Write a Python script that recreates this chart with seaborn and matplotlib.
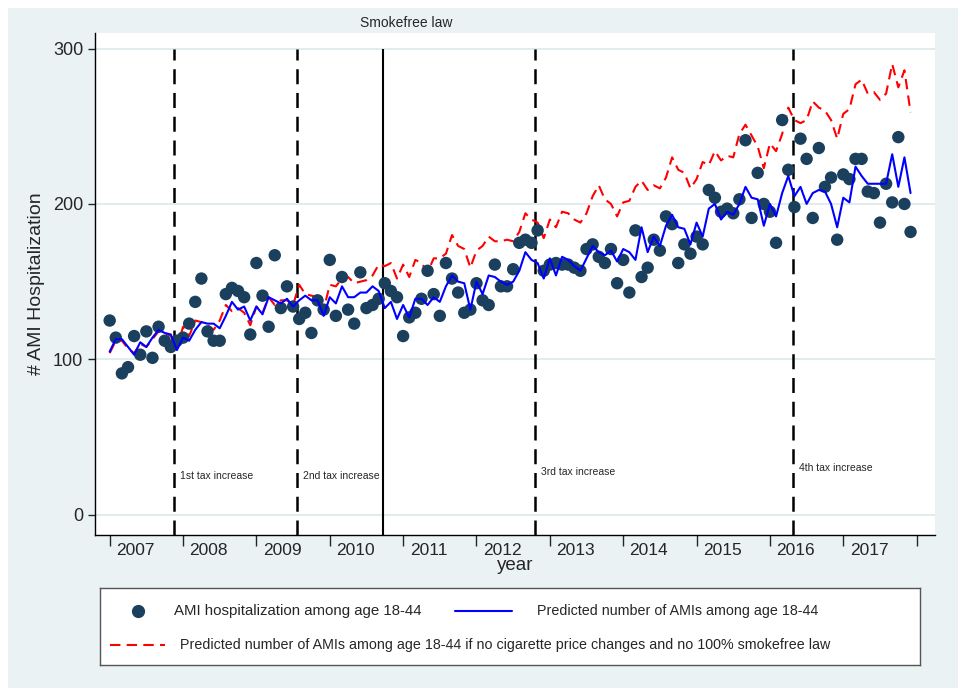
import numpy as np
import pandas as pd
import seaborn as sns
import matplotlib.pyplot as plt
from matplotlib.patches import Rectangle

# monthly data, Jan 2007 - Dec 2017
months = pd.date_range('2007-01-01', periods=132, freq='MS')

observed = [125, 114, 91, 95, 115, 103, 118, 101, 121, 112, 108, 112,
            114, 123, 137, 152, 118, 112, 112, 142, 146, 144, 140, 116,
            162, 141, 121, 167, 133, 147, 134, 126, 130, 117, 138, 132,
            164, 128, 153, 132, 123, 156, 133, 135, 139, 149, 144, 140,
            115, 127, 130, 139, 157, 142, 128, 162, 152, 143, 130, 132,
            149, 138, 135, 161, 147, 147, 158, 175, 177, 175, 183, 157,
            161, 162, 161, 161, 159, 157, 171, 174, 166, 162, 171, 149,
            164, 143, 183, 153, 159, 177, 170, 192, 187, 162, 174, 168,
            179, 174, 209, 204, 195, 197, 194, 203, 241, 191, 220, 200,
            195, 175, 254, 222, 198, 242, 229, 191, 236, 211, 217, 177,
            219, 216, 229, 229, 208, 207, 188, 213, 201, 243, 200, 182]

predicted = [105, 113, 113, 108, 103, 111, 108, 114, 119, 117, 116, 106,
             114, 112, 119, 124, 123, 123, 120, 128, 137, 132, 134, 125,
             134, 129, 140, 138, 136, 139, 134, 138, 141, 138, 138, 128,
             140, 136, 147, 140, 140, 143, 143, 147, 144, 133, 137, 126,
             135, 127, 139, 139, 135, 140, 137, 147, 154, 150, 149, 132,
             150, 142, 154, 153, 150, 148, 150, 157, 169, 164, 162, 152,
             165, 154, 166, 164, 160, 157, 165, 173, 169, 167, 170, 163,
             171, 169, 164, 185, 169, 179, 173, 186, 193, 185, 184, 174,
             188, 179, 197, 200, 190, 195, 193, 200, 211, 204, 203, 186,
             200, 192, 207, 218, 205, 211, 200, 207, 209, 208, 200, 185,
             204, 201, 224, 218, 213, 213, 213, 213, 232, 211, 230, 207]

counterfactual = [104, 112, 112, 107, 104, 110, 108, 113, 118, 117, 115, 107,
                  121, 115, 125, 124, 122, 119, 125, 135, 131, 133, 130, 122,
                  134, 130, 140, 135, 138, 138, 135, 148, 142, 141, 140, 132,
                  148, 147, 152, 153, 149, 150, 151, 154, 161, 160, 162, 152,
                  161, 153, 164, 162, 156, 165, 165, 168, 180, 173, 171, 159,
                  170, 173, 179, 176, 176, 177, 176, 182, 194, 190, 188, 178,
                  190, 185, 195, 194, 190, 188, 194, 205, 212, 203, 200, 192,
                  201, 202, 211, 215, 209, 212, 210, 217, 230, 222, 220, 210,
                  216, 227, 225, 234, 228, 231, 230, 245, 251, 244, 237, 223,
                  239, 234, 245, 262, 254, 252, 254, 266, 262, 260, 254, 242,
                  258, 261, 277, 280, 271, 272, 267, 271, 290, 275, 286, 259]

years = list(range(2007, 2018))
events = [('1st tax increase', 2007.88, 25), ('2nd tax increase', 2009.56, 25),
          ('3rd tax increase', 2012.80, 27.5), ('4th tax increase', 2016.31, 30)]
smokefree = 2010.72

df = pd.DataFrame({'month': months, 'observed': observed,
                   'predicted': predicted, 'counterfactual': counterfactual})
df['t'] = df['month'].dt.year + (df['month'].dt.month - 1) / 12

sns.set_style('white')
plt.rcParams['font.family'] = ['Liberation Sans', 'DejaVu Sans']

fig = plt.figure(figsize=(9.63, 6.94), dpi=100)
fig.patch.set_facecolor('white')
fig.add_artist(Rectangle((8 / 963, 6 / 694), 950 / 963, 680 / 694,
                         transform=fig.transFigure, facecolor='#eaf2f3',
                         edgecolor='none', zorder=-10))
ax = fig.add_axes([95 / 963, 1 - 535 / 694, 840 / 963, 502 / 694])
ax.set_facecolor('white')

for y in [0, 100, 200, 300]:
    ax.axhline(y, color='#dde9eb', lw=1.2, zorder=0)

ax.vlines([e[1] for e in events], -13, 300, colors='black', lw=1.8,
          linestyles=(0, (6, 3.5)), zorder=1)
ax.vlines(smokefree, -13, 300, colors='black', lw=1.5, zorder=1)

sns.scatterplot(data=df, x='t', y='observed', color='#1b405e', s=80,
                edgecolor='none', ax=ax, zorder=3)
sns.lineplot(data=df, x='t', y='predicted', color='#0000ff', lw=1.5,
             ax=ax, zorder=4)
sns.lineplot(data=df, x='t', y='counterfactual', color='#ff0000', lw=1.5,
             ax=ax, zorder=2)
ax.lines[-1].set_linestyle((0, (5, 3)))

for label, x, y in events:
    ax.text(x + 0.08, y, label, fontsize=7.5, ha='left', va='center')
ax.text(smokefree + 0.32, 1.006, 'Smokefree law', fontsize=10, ha='center',
        va='bottom', transform=ax.get_xaxis_transform())

ax.set_yticks([0, 100, 200, 300])
ax.tick_params(axis='y', labelsize=13, length=5, width=1, left=True)
ax.set_xticks(years + [2018])
ax.set_xticklabels([])
ax.set_xticks([y + 0.35 for y in years], labels=[str(y) for y in years], minor=True)
ax.tick_params(axis='x', which='major', length=8, width=1, bottom=True)
ax.tick_params(axis='x', which='minor', length=0, labelsize=12.5, pad=6)
ax.set_xlim(2006.8, 2018.25)
ax.set_ylim(-13, 310)
ax.set_xlabel('year', fontsize=13.5, labelpad=-1)
ax.set_ylabel('# AMI Hospitalization', fontsize=14, labelpad=6)
for s in ['top', 'right']:
    ax.spines[s].set_visible(False)
for s in ['left', 'bottom']:
    ax.spines[s].set_color('black')
    ax.spines[s].set_linewidth(1)

# legend box, drawn in pixel units of the box
lax = fig.add_axes([100 / 963, 1 - 665 / 694, 820 / 963, 77 / 694])
lax.set_xlim(0, 820)
lax.set_ylim(0, 77)
lax.set_xticks([])
lax.set_yticks([])
lax.set_facecolor('white')
for s in lax.spines.values():
    s.set_color('#555555')
    s.set_linewidth(1)
lax.plot([38], [54], 'o', color='#1b405e', markersize=8.5)
lax.text(74, 54, 'AMI hospitalization among age 18-44', fontsize=10.8, va='center')
lax.plot([355, 412], [54, 54], color='#0000ff', lw=1.5)
lax.text(437, 54, 'Predicted number of AMIs among age 18-44', fontsize=10.3, va='center')
lax.plot([10, 65], [20, 20], color='#ff0000', lw=1.5, ls=(0, (5, 3)))
lax.text(80, 20, 'Predicted number of AMIs among age 18-44 if no cigarette price changes '
         'and no 100% smokefree law', fontsize=10.3, va='center')

fig.savefig('out.png', dpi=100)
